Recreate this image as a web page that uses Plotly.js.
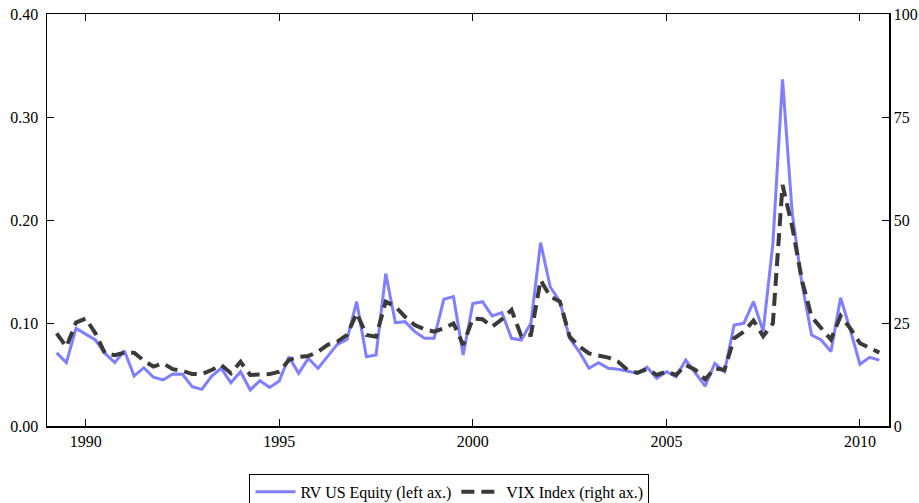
<!DOCTYPE html>
<html>
<head>
<meta charset="utf-8">
<script src="https://cdn.plot.ly/plotly-3.0.1.min.js"></script>
<style>html,body{margin:0;padding:0;background:#fff;}#chart{width:919px;height:503px;}</style>
</head>
<body>
<div id="chart"></div>
<script>
// Quarterly observations, 1989 Q2 .. 2010 Q3 (decimal years)
const startYear = 1989.25;
const rvUSEquity = [
  0.071, 0.0615, 0.0948, 0.089, 0.0835, 0.0705, 0.0615, 0.0731, 0.0485, 0.0566,
  0.0473, 0.0447, 0.0505, 0.0502, 0.0382, 0.0356, 0.0482, 0.056, 0.042, 0.0527,
  0.035, 0.044, 0.0375, 0.0437, 0.0673, 0.0511, 0.0657, 0.056, 0.068, 0.0793,
  0.0841, 0.1207, 0.0673, 0.069, 0.148, 0.1003, 0.1013, 0.0916, 0.0851, 0.0851,
  0.123, 0.1256, 0.069, 0.119, 0.1207, 0.1068, 0.110, 0.0851, 0.0835, 0.0997,
  0.178, 0.135, 0.1207, 0.085, 0.072, 0.056, 0.0615, 0.056, 0.055, 0.0534,
  0.0512, 0.057, 0.0463, 0.0527, 0.0479, 0.064, 0.0512, 0.0388, 0.0608, 0.0527,
  0.098, 0.0997, 0.1207, 0.092, 0.177, 0.3366, 0.2065, 0.1385, 0.0883, 0.0835,
  0.0722, 0.1246, 0.0932, 0.060, 0.0667, 0.064
];
const vixIndex = [
  22.5, 19.2, 25.1, 26.1, 22.5, 17.6, 17.2, 17.8, 17.8, 15.9,
  14.4, 15.2, 13.8, 13.4, 12.6, 12.6, 13.6, 14.8, 12.8, 15.6,
  12.4, 12.4, 12.6, 13.2, 16.0, 16.8, 17.0, 18.0, 19.7, 20.5,
  22.1, 27.4, 22.1, 21.7, 30.2, 29.0, 26.5, 24.5, 23.5, 22.9,
  23.7, 24.9, 19.7, 26.1, 25.9, 24.1, 25.9, 28.2, 21.8, 22.1,
  35.4, 31.4, 30.2, 21.7, 19.3, 17.6, 17.0, 16.6, 15.6, 13.6,
  12.9, 13.8, 12.4, 13.2, 12.4, 14.8, 13.6, 11.3, 14.0, 13.6,
  21.3, 22.9, 25.6, 21.8, 24.9, 58.5, 48.4, 35.4, 26.5, 23.7,
  21.0, 26.7, 23.7, 20.1, 18.9, 17.8
];
const dates = rvUSEquity.map((_, i) => startYear + 0.25 * i);
const xTicks = [1990, 1995, 2000, 2005, 2010];
const leftTicks = [0, 0.1, 0.2, 0.3, 0.4];
const rightTicks = [0, 25, 50, 75, 100];
const seriesNames = ["RV US Equity (left ax.)", "VIX Index (right ax.)"];

const font = {family: "Liberation Serif, DejaVu Serif, serif", size: 16, color: "#000"};

const traces = [
  {x: dates, y: rvUSEquity, name: seriesNames[0], type: "scatter", mode: "lines",
   line: {color: "#7f7fff", width: 3}, yaxis: "y"},
  {x: dates, y: vixIndex, name: seriesNames[1], type: "scatter", mode: "lines",
   line: {color: "#3a3a3a", width: 4, dash: "13px,7px"}, yaxis: "y2"}
];

const layout = {
  width: 919, height: 503,
  margin: {l: 47, r: 30, t: 14, b: 77, autoexpand: false},
  paper_bgcolor: "#fff", plot_bgcolor: "#fff",
  font: font,
  showlegend: true,
  legend: {orientation: "h", x: 0.478, xanchor: "center", y: -0.116, yanchor: "top",
           bordercolor: "#000", borderwidth: 1, bgcolor: "#fff", font: font,
           itemwidth: 40, tracegroupgap: 0},
  xaxis: {range: [1989, 2010.75], tickvals: xTicks, ticktext: xTicks.map(String),
          ticks: "inside", ticklen: 7, tickwidth: 1, tickcolor: "#000",
          showline: true, linecolor: "#000", linewidth: 1.5, mirror: "ticks",
          showgrid: false, zeroline: false, tickfont: font},
  yaxis: {range: [0, 0.4], tickvals: leftTicks, ticktext: leftTicks.map(v => v.toFixed(2)),
          ticks: "inside", ticklen: 7, tickwidth: 1, tickcolor: "#000",
          showline: true, linecolor: "#000", linewidth: 1.5, ticklabelstandoff: 4,
          showgrid: false, zeroline: false, tickfont: font},
  yaxis2: {range: [0, 100], tickvals: rightTicks, ticktext: rightTicks.map(String),
           overlaying: "y", side: "right",
           ticks: "inside", ticklen: 7, tickwidth: 1, tickcolor: "#000",
           showline: true, linecolor: "#000", linewidth: 1.5,
           showgrid: false, zeroline: false, tickfont: font}
};

Plotly.newPlot("chart", traces, layout, {displayModeBar: false, staticPlot: true});
</script>
</body>
</html>
